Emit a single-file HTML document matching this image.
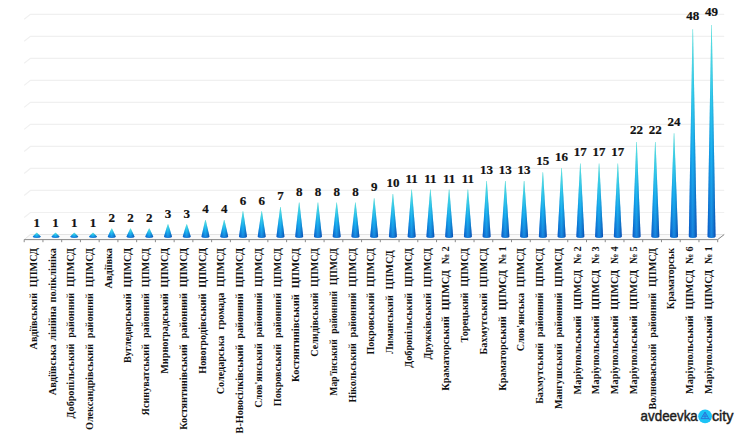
<!DOCTYPE html>
<html><head><meta charset="utf-8"><style>
html,body{margin:0;padding:0;background:#fff;width:750px;height:443px;overflow:hidden}
svg.c{position:absolute;left:0;top:0}
</style></head><body>
<svg class="c" width="750" height="443" viewBox="0 0 750 443">
<defs>
<linearGradient id="gv" x1="0" y1="0" x2="0" y2="1" gradientUnits="objectBoundingBox">
<stop offset="0" stop-color="#66dcd0"/><stop offset="0.3" stop-color="#30c4e4"/><stop offset="0.6" stop-color="#0c9cec"/><stop offset="1" stop-color="#0a5ed2"/>
</linearGradient>
<linearGradient id="gh" x1="0" y1="0" x2="1" y2="0" gradientUnits="objectBoundingBox">
<stop offset="0" stop-color="#0040a0" stop-opacity="0.3"/><stop offset="0.48" stop-color="#40e8ff" stop-opacity="0.28"/><stop offset="1" stop-color="#00287a" stop-opacity="0.45"/>
</linearGradient>
</defs>
<path d="M24.2 217.48L30.4 212.48H724.2M24.2 195.46L30.4 190.46H724.2M24.2 173.44L30.4 168.44H724.2M24.2 151.42L30.4 146.42H724.2M24.2 129.4L30.4 124.4H724.2M24.2 107.38L30.4 102.38H724.2M24.2 85.36L30.4 80.36H724.2M24.2 63.34L30.4 58.34H724.2M24.2 41.32L30.4 36.32H724.2M24.2 19.3L30.4 14.3H724.2" fill="none" stroke="#f0f0f0" stroke-width="1.2"/>
<path d="M24.2 239.6L30.4 234.5H724.2L717.7 239.6Z" fill="#fafafa" stroke="#e4e4e4" stroke-width="1"/>
<path d="M24.2 239.6H717.7L724.2 234.5" fill="none" stroke="#8c8c8c" stroke-width="1"/>
<path d="M24.2 239.6v2.6M42.94 239.6v2.6M61.69 239.6v2.6M80.43 239.6v2.6M99.17 239.6v2.6M117.92 239.6v2.6M136.66 239.6v2.6M155.4 239.6v2.6M174.15 239.6v2.6M192.89 239.6v2.6M211.63 239.6v2.6M230.38 239.6v2.6M249.12 239.6v2.6M267.86 239.6v2.6M286.61 239.6v2.6M305.35 239.6v2.6M324.09 239.6v2.6M342.84 239.6v2.6M361.58 239.6v2.6M380.32 239.6v2.6M399.06 239.6v2.6M417.81 239.6v2.6M436.55 239.6v2.6M455.29 239.6v2.6M474.04 239.6v2.6M492.78 239.6v2.6M511.52 239.6v2.6M530.27 239.6v2.6M549.01 239.6v2.6M567.75 239.6v2.6M586.5 239.6v2.6M605.24 239.6v2.6M623.98 239.6v2.6M642.73 239.6v2.6M661.47 239.6v2.6M680.21 239.6v2.6M698.96 239.6v2.6M717.7 239.6v2.6" stroke="#8c8c8c" stroke-width="1"/>
<path d="M36.52 232.87H37.02L40.77 236.6A4 1.3 0 0 1 32.77 236.6Z" fill="url(#gv)"/><path d="M36.52 232.87H37.02L40.77 236.6A4 1.3 0 0 1 32.77 236.6Z" fill="url(#gh)"/>
<path d="M55.26 232.87H55.76L59.51 236.6A4 1.3 0 0 1 51.51 236.6Z" fill="url(#gv)"/><path d="M55.26 232.87H55.76L59.51 236.6A4 1.3 0 0 1 51.51 236.6Z" fill="url(#gh)"/>
<path d="M74.01 232.87H74.51L78.26 236.6A4 1.3 0 0 1 70.26 236.6Z" fill="url(#gv)"/><path d="M74.01 232.87H74.51L78.26 236.6A4 1.3 0 0 1 70.26 236.6Z" fill="url(#gh)"/>
<path d="M92.75 232.87H93.25L97 236.6A4 1.3 0 0 1 89 236.6Z" fill="url(#gv)"/><path d="M92.75 232.87H93.25L97 236.6A4 1.3 0 0 1 89 236.6Z" fill="url(#gh)"/>
<path d="M111.49 228.54H111.99L115.74 236.6A4 1.3 0 0 1 107.74 236.6Z" fill="url(#gv)"/><path d="M111.49 228.54H111.99L115.74 236.6A4 1.3 0 0 1 107.74 236.6Z" fill="url(#gh)"/>
<path d="M130.24 228.54H130.74L134.49 236.6A4 1.3 0 0 1 126.49 236.6Z" fill="url(#gv)"/><path d="M130.24 228.54H130.74L134.49 236.6A4 1.3 0 0 1 126.49 236.6Z" fill="url(#gh)"/>
<path d="M148.98 228.54H149.48L153.23 236.6A4 1.3 0 0 1 145.23 236.6Z" fill="url(#gv)"/><path d="M148.98 228.54H149.48L153.23 236.6A4 1.3 0 0 1 145.23 236.6Z" fill="url(#gh)"/>
<path d="M167.72 224.21H168.22L171.97 236.6A4 1.3 0 0 1 163.97 236.6Z" fill="url(#gv)"/><path d="M167.72 224.21H168.22L171.97 236.6A4 1.3 0 0 1 163.97 236.6Z" fill="url(#gh)"/>
<path d="M186.47 224.21H186.97L190.72 236.6A4 1.3 0 0 1 182.72 236.6Z" fill="url(#gv)"/><path d="M186.47 224.21H186.97L190.72 236.6A4 1.3 0 0 1 182.72 236.6Z" fill="url(#gh)"/>
<path d="M205.21 219.88H205.71L209.46 236.6A4 1.3 0 0 1 201.46 236.6Z" fill="url(#gv)"/><path d="M205.21 219.88H205.71L209.46 236.6A4 1.3 0 0 1 201.46 236.6Z" fill="url(#gh)"/>
<path d="M223.95 219.88H224.45L228.2 236.6A4 1.3 0 0 1 220.2 236.6Z" fill="url(#gv)"/><path d="M223.95 219.88H224.45L228.2 236.6A4 1.3 0 0 1 220.2 236.6Z" fill="url(#gh)"/>
<path d="M242.7 211.22H243.2L246.95 236.6A4 1.3 0 0 1 238.95 236.6Z" fill="url(#gv)"/><path d="M242.7 211.22H243.2L246.95 236.6A4 1.3 0 0 1 238.95 236.6Z" fill="url(#gh)"/>
<path d="M261.44 211.22H261.94L265.69 236.6A4 1.3 0 0 1 257.69 236.6Z" fill="url(#gv)"/><path d="M261.44 211.22H261.94L265.69 236.6A4 1.3 0 0 1 257.69 236.6Z" fill="url(#gh)"/>
<path d="M280.18 206.89H280.68L284.43 236.6A4 1.3 0 0 1 276.43 236.6Z" fill="url(#gv)"/><path d="M280.18 206.89H280.68L284.43 236.6A4 1.3 0 0 1 276.43 236.6Z" fill="url(#gh)"/>
<path d="M298.93 202.56H299.43L303.18 236.6A4 1.3 0 0 1 295.18 236.6Z" fill="url(#gv)"/><path d="M298.93 202.56H299.43L303.18 236.6A4 1.3 0 0 1 295.18 236.6Z" fill="url(#gh)"/>
<path d="M317.67 202.56H318.17L321.92 236.6A4 1.3 0 0 1 313.92 236.6Z" fill="url(#gv)"/><path d="M317.67 202.56H318.17L321.92 236.6A4 1.3 0 0 1 313.92 236.6Z" fill="url(#gh)"/>
<path d="M336.41 202.56H336.91L340.66 236.6A4 1.3 0 0 1 332.66 236.6Z" fill="url(#gv)"/><path d="M336.41 202.56H336.91L340.66 236.6A4 1.3 0 0 1 332.66 236.6Z" fill="url(#gh)"/>
<path d="M355.16 202.56H355.66L359.41 236.6A4 1.3 0 0 1 351.41 236.6Z" fill="url(#gv)"/><path d="M355.16 202.56H355.66L359.41 236.6A4 1.3 0 0 1 351.41 236.6Z" fill="url(#gh)"/>
<path d="M373.9 198.23H374.4L378.15 236.6A4 1.3 0 0 1 370.15 236.6Z" fill="url(#gv)"/><path d="M373.9 198.23H374.4L378.15 236.6A4 1.3 0 0 1 370.15 236.6Z" fill="url(#gh)"/>
<path d="M392.64 193.9H393.14L396.89 236.6A4 1.3 0 0 1 388.89 236.6Z" fill="url(#gv)"/><path d="M392.64 193.9H393.14L396.89 236.6A4 1.3 0 0 1 388.89 236.6Z" fill="url(#gh)"/>
<path d="M411.39 189.57H411.89L415.64 236.6A4 1.3 0 0 1 407.64 236.6Z" fill="url(#gv)"/><path d="M411.39 189.57H411.89L415.64 236.6A4 1.3 0 0 1 407.64 236.6Z" fill="url(#gh)"/>
<path d="M430.13 189.57H430.63L434.38 236.6A4 1.3 0 0 1 426.38 236.6Z" fill="url(#gv)"/><path d="M430.13 189.57H430.63L434.38 236.6A4 1.3 0 0 1 426.38 236.6Z" fill="url(#gh)"/>
<path d="M448.87 189.57H449.37L453.12 236.6A4 1.3 0 0 1 445.12 236.6Z" fill="url(#gv)"/><path d="M448.87 189.57H449.37L453.12 236.6A4 1.3 0 0 1 445.12 236.6Z" fill="url(#gh)"/>
<path d="M467.62 189.57H468.12L471.87 236.6A4 1.3 0 0 1 463.87 236.6Z" fill="url(#gv)"/><path d="M467.62 189.57H468.12L471.87 236.6A4 1.3 0 0 1 463.87 236.6Z" fill="url(#gh)"/>
<path d="M486.36 180.91H486.86L490.61 236.6A4 1.3 0 0 1 482.61 236.6Z" fill="url(#gv)"/><path d="M486.36 180.91H486.86L490.61 236.6A4 1.3 0 0 1 482.61 236.6Z" fill="url(#gh)"/>
<path d="M505.1 180.91H505.6L509.35 236.6A4 1.3 0 0 1 501.35 236.6Z" fill="url(#gv)"/><path d="M505.1 180.91H505.6L509.35 236.6A4 1.3 0 0 1 501.35 236.6Z" fill="url(#gh)"/>
<path d="M523.85 180.91H524.35L528.1 236.6A4 1.3 0 0 1 520.1 236.6Z" fill="url(#gv)"/><path d="M523.85 180.91H524.35L528.1 236.6A4 1.3 0 0 1 520.1 236.6Z" fill="url(#gh)"/>
<path d="M542.59 172.25H543.09L546.84 236.6A4 1.3 0 0 1 538.84 236.6Z" fill="url(#gv)"/><path d="M542.59 172.25H543.09L546.84 236.6A4 1.3 0 0 1 538.84 236.6Z" fill="url(#gh)"/>
<path d="M561.33 167.92H561.83L565.58 236.6A4 1.3 0 0 1 557.58 236.6Z" fill="url(#gv)"/><path d="M561.33 167.92H561.83L565.58 236.6A4 1.3 0 0 1 557.58 236.6Z" fill="url(#gh)"/>
<path d="M580.08 163.59H580.58L584.33 236.6A4 1.3 0 0 1 576.33 236.6Z" fill="url(#gv)"/><path d="M580.08 163.59H580.58L584.33 236.6A4 1.3 0 0 1 576.33 236.6Z" fill="url(#gh)"/>
<path d="M598.82 163.59H599.32L603.07 236.6A4 1.3 0 0 1 595.07 236.6Z" fill="url(#gv)"/><path d="M598.82 163.59H599.32L603.07 236.6A4 1.3 0 0 1 595.07 236.6Z" fill="url(#gh)"/>
<path d="M617.56 163.59H618.06L621.81 236.6A4 1.3 0 0 1 613.81 236.6Z" fill="url(#gv)"/><path d="M617.56 163.59H618.06L621.81 236.6A4 1.3 0 0 1 613.81 236.6Z" fill="url(#gh)"/>
<path d="M636.31 141.94H636.81L640.56 236.6A4 1.3 0 0 1 632.56 236.6Z" fill="url(#gv)"/><path d="M636.31 141.94H636.81L640.56 236.6A4 1.3 0 0 1 632.56 236.6Z" fill="url(#gh)"/>
<path d="M655.05 141.94H655.55L659.3 236.6A4 1.3 0 0 1 651.3 236.6Z" fill="url(#gv)"/><path d="M655.05 141.94H655.55L659.3 236.6A4 1.3 0 0 1 651.3 236.6Z" fill="url(#gh)"/>
<path d="M673.79 133.28H674.29L678.04 236.6A4 1.3 0 0 1 670.04 236.6Z" fill="url(#gv)"/><path d="M673.79 133.28H674.29L678.04 236.6A4 1.3 0 0 1 670.04 236.6Z" fill="url(#gh)"/>
<path d="M692.54 29.36H693.04L696.79 236.6A4 1.3 0 0 1 688.79 236.6Z" fill="url(#gv)"/><path d="M692.54 29.36H693.04L696.79 236.6A4 1.3 0 0 1 688.79 236.6Z" fill="url(#gh)"/>
<path d="M711.28 25.03H711.78L715.53 236.6A4 1.3 0 0 1 707.53 236.6Z" fill="url(#gv)"/><path d="M711.28 25.03H711.78L715.53 236.6A4 1.3 0 0 1 707.53 236.6Z" fill="url(#gh)"/>
<g font-family="Liberation Serif, serif" font-weight="bold" font-size="13" text-anchor="middle" fill="#111" stroke="#111" stroke-width="0.2"><text x="36.77" y="226.52">1</text><text x="55.51" y="226.52">1</text><text x="74.26" y="226.52">1</text><text x="93" y="226.52">1</text><text x="111.74" y="222.13">2</text><text x="130.49" y="222.13">2</text><text x="149.23" y="222.13">2</text><text x="167.97" y="217.75">3</text><text x="186.72" y="217.75">3</text><text x="205.46" y="213.36">4</text><text x="224.2" y="213.36">4</text><text x="242.95" y="204.59">6</text><text x="261.69" y="204.59">6</text><text x="280.43" y="200.21">7</text><text x="299.18" y="195.82">8</text><text x="317.92" y="195.82">8</text><text x="336.66" y="195.82">8</text><text x="355.41" y="195.82">8</text><text x="374.15" y="191.44">9</text><text x="392.89" y="187.05">10</text><text x="411.64" y="182.67">11</text><text x="430.38" y="182.67">11</text><text x="449.12" y="182.67">11</text><text x="467.87" y="182.67">11</text><text x="486.61" y="173.9">13</text><text x="505.35" y="173.9">13</text><text x="524.1" y="173.9">13</text><text x="542.84" y="165.12">15</text><text x="561.58" y="160.74">16</text><text x="580.33" y="156.36">17</text><text x="599.07" y="156.36">17</text><text x="617.81" y="156.36">17</text><text x="636.56" y="134.43">22</text><text x="655.3" y="134.43">22</text><text x="674.04" y="125.66">24</text><text x="692.79" y="20.42">48</text><text x="711.53" y="16.04">49</text></g>
<g font-family="Liberation Serif, serif" font-weight="bold" font-size="10.8" word-spacing="3.5" text-anchor="end" fill="#111"><text transform="translate(36.97 248) rotate(-90)" textLength="101.4" lengthAdjust="spacingAndGlyphs">Авдіївський ЦПМСД</text><text transform="translate(55.71 248) rotate(-90)" textLength="147.2" lengthAdjust="spacingAndGlyphs" word-spacing="0.8">Авдіївська лінійна поліклініка</text><text transform="translate(74.46 248) rotate(-90)" textLength="170.4" lengthAdjust="spacingAndGlyphs">Добропільський районний ЦПМСД</text><text transform="translate(93.2 248) rotate(-90)" textLength="182" lengthAdjust="spacingAndGlyphs">Олександрівський районний ЦПМСД</text><text transform="translate(111.94 248) rotate(-90)" textLength="40.4" lengthAdjust="spacingAndGlyphs">Авдіївка</text><text transform="translate(130.69 248) rotate(-90)" textLength="115" lengthAdjust="spacingAndGlyphs">Вугледарський ЦПМСД</text><text transform="translate(149.43 248) rotate(-90)" textLength="167.4" lengthAdjust="spacingAndGlyphs">Ясинуватський районний ЦПМСД</text><text transform="translate(168.17 248) rotate(-90)" textLength="125.8" lengthAdjust="spacingAndGlyphs">Мирноградський ЦПМСД</text><text transform="translate(186.92 248) rotate(-90)" textLength="181.8" lengthAdjust="spacingAndGlyphs">Костянтинівський районний ЦПМСД</text><text transform="translate(205.66 248) rotate(-90)" textLength="125.8" lengthAdjust="spacingAndGlyphs">Новогродівський ЦПМСД</text><text transform="translate(224.4 248) rotate(-90)" textLength="146.2" lengthAdjust="spacingAndGlyphs">Соледарська громада ЦПМСД</text><text transform="translate(243.15 248) rotate(-90)" textLength="185.4" lengthAdjust="spacingAndGlyphs">В-Новосілківський районний ЦПМСД</text><text transform="translate(261.89 248) rotate(-90)" textLength="159.8" lengthAdjust="spacingAndGlyphs">Слов'янський районний ЦПМСД</text><text transform="translate(280.63 248) rotate(-90)" textLength="158.2" lengthAdjust="spacingAndGlyphs">Покровський районний ЦПМСД</text><text transform="translate(299.38 248) rotate(-90)" textLength="133.9" lengthAdjust="spacingAndGlyphs">Костянтинівський ЦПМСД</text><text transform="translate(318.12 248) rotate(-90)" textLength="108.7" lengthAdjust="spacingAndGlyphs">Селидівський ЦПМСД</text><text transform="translate(336.86 248) rotate(-90)" textLength="147.7" lengthAdjust="spacingAndGlyphs">Мар'їнський районний ЦПМСД</text><text transform="translate(355.61 248) rotate(-90)" textLength="154.6" lengthAdjust="spacingAndGlyphs">Нікольський районний ЦПМСД</text><text transform="translate(374.35 248) rotate(-90)" textLength="106.6" lengthAdjust="spacingAndGlyphs">Покровський ЦПМСД</text><text transform="translate(393.09 250.3) rotate(-90)" textLength="103.4" lengthAdjust="spacingAndGlyphs">Лиманський ЦПМСД</text><text transform="translate(411.84 248) rotate(-90)" textLength="119.7" lengthAdjust="spacingAndGlyphs">Добропільський ЦПМСД</text><text transform="translate(430.58 248) rotate(-90)" textLength="111.4" lengthAdjust="spacingAndGlyphs">Дружківський ЦПМСД</text><text transform="translate(449.32 246.4) rotate(-90)" textLength="144.3" lengthAdjust="spacingAndGlyphs">Краматорський ЦПМСД № 2</text><text transform="translate(468.07 248) rotate(-90)" textLength="94.5" lengthAdjust="spacingAndGlyphs">Торецький ЦПМСД</text><text transform="translate(486.81 248) rotate(-90)" textLength="106.4" lengthAdjust="spacingAndGlyphs">Бахмутський ЦПМСД</text><text transform="translate(505.55 246.4) rotate(-90)" textLength="144.3" lengthAdjust="spacingAndGlyphs">Краматорський ЦПМСД № 1</text><text transform="translate(524.3 248) rotate(-90)" textLength="103.2" lengthAdjust="spacingAndGlyphs">Слов'янська ЦПМСД</text><text transform="translate(543.04 248) rotate(-90)" textLength="155.8" lengthAdjust="spacingAndGlyphs">Бахмутський районний ЦПМСД</text><text transform="translate(561.78 248) rotate(-90)" textLength="161.1" lengthAdjust="spacingAndGlyphs">Мангушський районний ЦПМСД</text><text transform="translate(580.53 246.4) rotate(-90)" textLength="148.1" lengthAdjust="spacingAndGlyphs">Маріупольський ЦПМСД № 2</text><text transform="translate(599.27 246.4) rotate(-90)" textLength="147.8" lengthAdjust="spacingAndGlyphs">Маріупольський ЦПМСД № 3</text><text transform="translate(618.01 246.4) rotate(-90)" textLength="147.8" lengthAdjust="spacingAndGlyphs">Маріупольський ЦПМСД № 4</text><text transform="translate(636.76 246.4) rotate(-90)" textLength="147.8" lengthAdjust="spacingAndGlyphs">Маріупольський ЦПМСД № 5</text><text transform="translate(655.5 248) rotate(-90)" textLength="161.4" lengthAdjust="spacingAndGlyphs">Волноваський районний ЦПМСД</text><text transform="translate(674.24 248) rotate(-90)" textLength="61.2" lengthAdjust="spacingAndGlyphs">Краматорськ</text><text transform="translate(692.99 246.4) rotate(-90)" textLength="147.6" lengthAdjust="spacingAndGlyphs">Маріупольський ЦПМСД № 6</text><text transform="translate(711.73 246.4) rotate(-90)" textLength="147.6" lengthAdjust="spacingAndGlyphs">Маріупольський ЦПМСД № 1</text></g>
<g font-family="Liberation Sans, sans-serif" font-size="15" fill="#1b1b1b" stroke="#1b1b1b" stroke-width="0.45">
<text x="640.6" y="420.7" textLength="57.2" lengthAdjust="spacingAndGlyphs">avdeevka</text>
<text x="711.9" y="420.7" textLength="21.6" lengthAdjust="spacingAndGlyphs">city</text></g>
<circle cx="705.1" cy="416.3" r="6.9" fill="#1cc3f6"/>
<path d="M705 412.1L701.1 418.6H708.8ZM702.4 416.2H707.6M705 412.4V418.6M708.6 418.7L710.2 419.5" fill="none" stroke="#2b6fd6" stroke-width="0.9" stroke-linejoin="round"/>
</svg>

</body></html>
